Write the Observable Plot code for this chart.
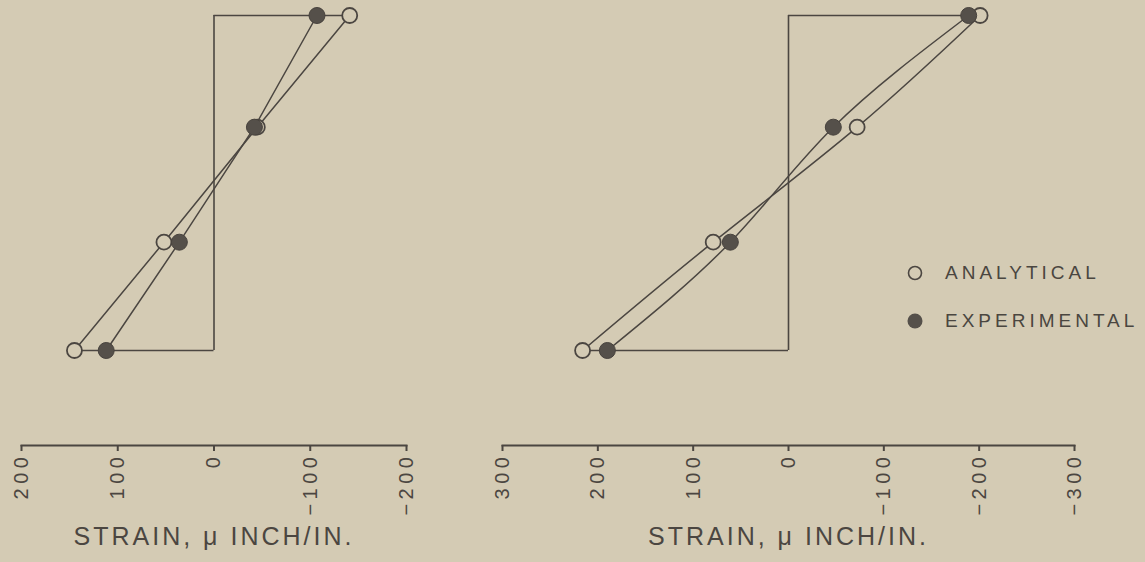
<!DOCTYPE html>
<html>
<head>
<meta charset="utf-8">
<script src="https://cdn.jsdelivr.net/npm/d3@7"></script>
<script src="https://cdn.jsdelivr.net/npm/@observablehq/plot@0.6"></script>
<style>
  html, body { margin: 0; padding: 0; background: #d4cbb4; }
  #wrap { position: relative; width: 1145px; height: 562px; overflow: hidden; background: #d4cbb4; }
  #wrap svg.plot { position: absolute; left: 0; top: 0; }
  #wrap g[aria-label="x-axis tick label"] text { letter-spacing: 4.5px; }
  #wrap g[aria-label="text"] text { letter-spacing: 3px; }
  #legend { position: absolute; left: 906px; top: 260px; font-family: "Liberation Sans", Arial, sans-serif;
            font-size: 19px; letter-spacing: 4px; color: #4a4640; }
  #legend .row { display: flex; align-items: center; height: 26px; margin-bottom: 22px; }
  #legend svg { margin-right: 21px; }
</style>
</head>
<body>
<div id="wrap"></div>
<script>
// Depth levels through the section (bottom = 0, top = 3)
const levels = [0, 0.97, 2, 3];

// Left panel strains (μ inch/in.)
const leftTicks = [200, 100, 0, -100, -200];
const leftAnalytical = [145, 52, -45, -141];
const leftExperimental = [112, 36, -42, -107];

// Right panel strains (μ inch/in.)
const rightTicks = [300, 200, 100, 0, -100, -200, -300];
const rightAnalytical = [216, 79, -72, -201];
const rightExperimental = [190, 61, -47, -189];

const axisLabel = "STRAIN, μ INCH/IN.";
const legendLabels = ["ANALYTICAL", "EXPERIMENTAL"];

const ink = "#4b4641";
const dotFill = "#55504a";
const bg = "#d4cbb4";
const W = 1145, H = 562;

function panel(ticks, analytical, experimental, marginLeft, marginRight, curve) {
  const a = levels.map((y, i) => ({y, x: analytical[i]}));
  const e = levels.map((y, i) => ({y, x: experimental[i]}));
  const top = levels[levels.length - 1], bottom = levels[0];
  return Plot.plot({
    width: W, height: H,
    marginLeft, marginRight, marginTop: 0, marginBottom: 117,
    style: {background: "transparent", color: ink, fontFamily: "'Liberation Sans', Arial, sans-serif"},
    x: {domain: [ticks[0], ticks[ticks.length - 1]]},
    y: {domain: [bottom, top], range: [350, 15], axis: null},
    marks: [
      Plot.frame({anchor: "bottom", stroke: ink, strokeWidth: 2}),
      Plot.axisX({ticks, tickSize: 6, tickPadding: 1, tickRotate: -90, fontSize: 20,
                  stroke: ink, strokeWidth: 2, label: null, fill: ink,
                  tickFormat: d => d < 0 ? "\u2212" + Math.abs(d) : String(d)}),
      // reference box
      Plot.ruleX([0], {y1: bottom, y2: top, stroke: ink, strokeWidth: 1.6}),
      Plot.ruleY([top], {x1: 0, x2: analytical[analytical.length - 1], stroke: ink, strokeWidth: 1.6}),
      Plot.ruleY([bottom], {x1: 0, x2: analytical[0], stroke: ink, strokeWidth: 1.6}),
      // profiles
      Plot.line(a, {x: "x", y: "y", stroke: ink, strokeWidth: 1.5, curve}),
      Plot.line(e, {x: "x", y: "y", stroke: ink, strokeWidth: 1.5, curve}),
      Plot.dot(a, {x: "x", y: "y", r: 7.5, fill: bg, stroke: ink, strokeWidth: 1.8}),
      Plot.dot(e, {x: "x", y: "y", r: 8, fill: dotFill, stroke: "#48433e", strokeWidth: 1}),
      Plot.text([axisLabel], {frameAnchor: "bottom", dy: 99, fontSize: 25, fill: ink})
    ]
  });
}

const wrap = document.getElementById("wrap");
const left = panel(leftTicks, leftAnalytical, leftExperimental, 21, W - 406, "linear");
const right = panel(rightTicks, rightAnalytical, rightExperimental, 502, W - 1074, "natural");
left.classList.add("plot");
right.classList.add("plot");
wrap.appendChild(left);
wrap.appendChild(right);

// legend
const legend = document.createElement("div");
legend.id = "legend";
legend.innerHTML = `
  <div class="row"><svg width="18" height="18"><circle cx="9" cy="9" r="6.5" fill="none" stroke="${ink}" stroke-width="1.6"/></svg><span>${legendLabels[0]}</span></div>
  <div class="row"><svg width="18" height="18"><circle cx="9" cy="9" r="7.5" fill="${dotFill}"/></svg><span>${legendLabels[1]}</span></div>`;
wrap.appendChild(legend);
</script>
</body>
</html>
